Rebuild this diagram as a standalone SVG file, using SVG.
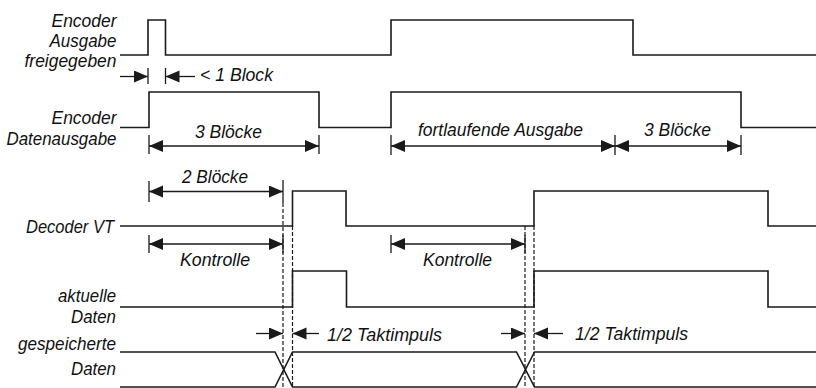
<svg xmlns="http://www.w3.org/2000/svg" width="816" height="388" viewBox="0 0 816 388">
<style>
.sig{fill:none;stroke:#1a1a1a;stroke-width:1.6;stroke-linejoin:miter}
.lbl{font-family:"Liberation Sans",Arial,sans-serif;font-style:italic;font-size:17.5px;fill:#111;text-anchor:end}
.ann{font-family:"Liberation Sans",Arial,sans-serif;font-style:italic;font-size:18.5px;fill:#111;text-anchor:middle}
.tick{stroke:#1a1a1a;stroke-width:1.3;fill:none}
.dash{stroke:#1a1a1a;stroke-width:1.2;stroke-dasharray:4 2;fill:none}
.arr{stroke:#1a1a1a;stroke-width:1.3;fill:none;marker-end:url(#ah)}
.darr{stroke:#1a1a1a;stroke-width:1.3;fill:none;marker-start:url(#ah);marker-end:url(#ah)}
</style>
<defs>
<marker id="ah" markerUnits="userSpaceOnUse" markerWidth="15" markerHeight="13" refX="14" refY="6" orient="auto-start-reverse" viewBox="0 0 15 13">
<path d="M0,0 L14,6 L0,12 z" fill="#1a1a1a"/>
</marker>
</defs>
<rect width="816" height="388" fill="#ffffff"/>

<g id="encoder-ausgabe">
<text class="lbl" x="116.5" y="27" textLength="65" lengthAdjust="spacingAndGlyphs">Encoder</text>
<text class="lbl" x="116.5" y="47" textLength="67" lengthAdjust="spacingAndGlyphs">Ausgabe</text>
<text class="lbl" x="116.5" y="67" textLength="92" lengthAdjust="spacingAndGlyphs">freigegeben</text>
<path class="sig" d="M120,55 H148 V20 H165.5 V55 H391 V20 H633 V55 H816"/>
</g>

<g id="encoder-datenausgabe">
<text class="lbl" x="116.5" y="124" textLength="65" lengthAdjust="spacingAndGlyphs">Encoder</text>
<text class="lbl" x="116.5" y="145" textLength="110" lengthAdjust="spacingAndGlyphs">Datenausgabe</text>
<path class="sig" d="M120,127.5 H149 V92 H319 V127.5 H391 V92 H741 V127.5 H816"/>
</g>

<g id="decoder-vt">
<text class="lbl" x="114" y="233" textLength="88" lengthAdjust="spacingAndGlyphs">Decoder VT</text>
<path class="sig" d="M120,226 H292.5 V191 H346 V226 H534 V191 H768 V226 H816"/>
</g>

<g id="aktuelle-daten">
<text class="lbl" x="116" y="302" textLength="58" lengthAdjust="spacingAndGlyphs">aktuelle</text>
<text class="lbl" x="116" y="323" textLength="45" lengthAdjust="spacingAndGlyphs">Daten</text>
<path class="sig" d="M120,307 H292.5 V271 H346.5 V307 H534 V271 H768 V307 H816"/>
</g>

<g id="gespeicherte-daten">
<text class="lbl" x="116" y="350" textLength="98" lengthAdjust="spacingAndGlyphs">gespeicherte</text>
<text class="lbl" x="116" y="375" textLength="45" lengthAdjust="spacingAndGlyphs">Daten</text>
<path class="sig" d="M120,352 H275 L292.5,387 H516.5 L534.5,352 H816"/>
<path class="sig" d="M120,387 H275 L292.5,352 H516.5 L534.5,387 H816"/>
</g>

<g id="connectors">
<line class="tick" x1="148" y1="68" x2="148" y2="84"/>
<line class="tick" x1="165.5" y1="68" x2="165.5" y2="84"/>
<line class="arr" x1="120" y1="76.5" x2="148" y2="76.5"/>
<line class="arr" x1="195" y1="76.5" x2="165.5" y2="76.5"/>
<line class="tick" x1="149" y1="135" x2="149" y2="154"/>
<line class="tick" x1="319" y1="135" x2="319" y2="154"/>
<line class="tick" x1="391" y1="135" x2="391" y2="155"/>
<line class="tick" x1="615" y1="135" x2="615" y2="155"/>
<line class="tick" x1="741" y1="135" x2="741" y2="155"/>
<line class="darr" x1="149" y1="146" x2="319" y2="146"/>
<line class="darr" x1="391" y1="146" x2="615" y2="146"/>
<line class="darr" x1="615" y1="146" x2="741" y2="146"/>
<line class="tick" x1="149" y1="181" x2="149" y2="202"/>
<line class="tick" x1="283" y1="180" x2="283" y2="203"/>
<line class="darr" x1="149" y1="191.5" x2="283" y2="191.5"/>
<line class="tick" x1="149" y1="235" x2="149" y2="253"/>
<line class="tick" x1="283" y1="235" x2="283" y2="253"/>
<line class="darr" x1="149" y1="244" x2="283" y2="244"/>
<line class="tick" x1="391" y1="235" x2="391" y2="253"/>
<line class="tick" x1="525" y1="235" x2="525" y2="253"/>
<line class="darr" x1="391" y1="244" x2="525" y2="244"/>
<line class="dash" x1="283" y1="203" x2="283" y2="388"/>
<line class="dash" x1="292.5" y1="226" x2="292.5" y2="388"/>
<line class="dash" x1="525" y1="226" x2="525" y2="388"/>
<line class="dash" x1="534" y1="226" x2="534" y2="388"/>
<line class="arr" x1="256" y1="333.5" x2="283" y2="333.5"/>
<line class="arr" x1="319" y1="333.5" x2="292.5" y2="333.5"/>
<line class="arr" x1="501" y1="333.5" x2="525" y2="333.5"/>
<line class="arr" x1="563" y1="333.5" x2="534" y2="333.5"/>
</g>

<g id="annotations">
<text class="ann" x="236.5" y="81" textLength="73" lengthAdjust="spacingAndGlyphs">&lt; 1 Block</text>
<text class="ann" x="228.5" y="138" textLength="67" lengthAdjust="spacingAndGlyphs">3 Blöcke</text>
<text class="ann" x="500.5" y="136" textLength="165" lengthAdjust="spacingAndGlyphs">fortlaufende Ausgabe</text>
<text class="ann" x="677.5" y="136" textLength="67" lengthAdjust="spacingAndGlyphs">3 Blöcke</text>
<text class="ann" x="215" y="183" textLength="66" lengthAdjust="spacingAndGlyphs">2 Blöcke</text>
<text class="ann" x="215" y="265.5" textLength="70" lengthAdjust="spacingAndGlyphs">Kontrolle</text>
<text class="ann" x="457.5" y="265.5" textLength="69" lengthAdjust="spacingAndGlyphs">Kontrolle</text>
<text class="ann" x="384.5" y="341" textLength="115" lengthAdjust="spacingAndGlyphs">1/2 Taktimpuls</text>
<text class="ann" x="631.5" y="340" textLength="113" lengthAdjust="spacingAndGlyphs">1/2 Taktimpuls</text>
</g>
</svg>
